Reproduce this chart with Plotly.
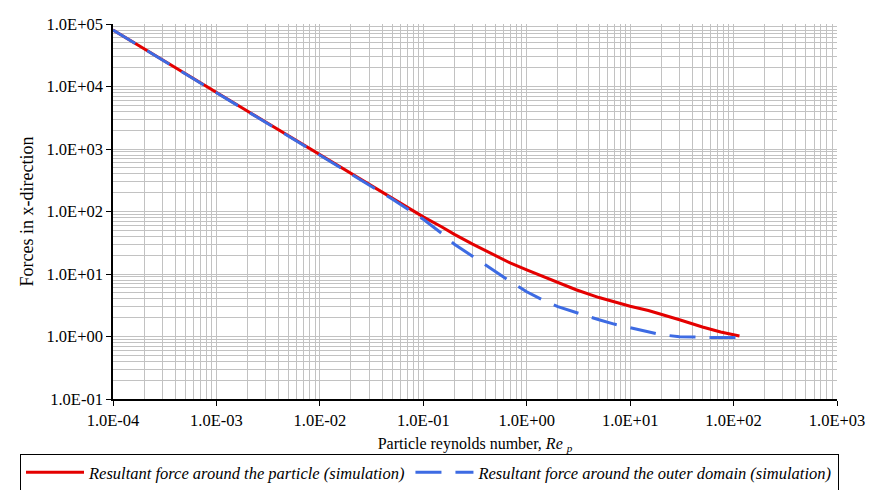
import plotly.graph_objects as go

# Particle Reynolds number samples
re_particle = [1e-4, 3e-4, 1e-3, 3e-3, 1e-2, 3e-2, 0.05, 0.1, 0.15, 0.2, 0.3, 0.5, 0.7, 1.0, 1.5, 2.0, 3.0, 5.0, 7.0, 10.0, 15.0, 20.0, 30.0, 50.0, 75.0, 114.0]
force_particle = [80000, 26700, 8000, 2670, 800, 267, 160, 82, 57, 43, 30, 19.5, 14.9, 11.6, 8.8, 7.3, 5.6, 4.2, 3.55, 3.05, 2.6, 2.28, 1.85, 1.42, 1.18, 1.02]

re_outer = [1e-4, 3e-4, 1e-3, 3e-3, 1e-2, 3e-2, 0.05, 0.1, 0.15, 0.2, 0.3, 0.5, 0.7, 1.0, 1.5, 2.0, 3.0, 5.0, 7.0, 10.0, 15.0, 20.0, 30.0, 50.0, 75.0, 114.0]
force_outer = [80000, 26700, 8000, 2670, 800, 266, 159, 75, 45, 30, 19, 11, 7.5, 5.2, 3.7, 3.0, 2.4, 1.85, 1.58, 1.38, 1.17, 1.07, 0.99, 0.96, 0.96, 0.97]

x_tickvals = [1e-4, 1e-3, 1e-2, 1e-1, 1e0, 1e1, 1e2, 1e3]
x_ticktext = ["1.0E-04", "1.0E-03", "1.0E-02", "1.0E-01", "1.0E+00", "1.0E+01", "1.0E+02", "1.0E+03"]
y_tickvals = [1e-1, 1e0, 1e1, 1e2, 1e3, 1e4, 1e5]
y_ticktext = ["1.0E-01", "1.0E+00", "1.0E+01", "1.0E+02", "1.0E+03", "1.0E+04", "1.0E+05"]

x_minor = [k * 10.0 ** e for e in range(-4, 3) for k in range(2, 10)]
y_minor = [k * 10.0 ** e for e in range(-1, 5) for k in range(2, 10)]

series_names = ["<i>Resultant force around the particle (simulation)</i>",
                "<i>Resultant force around the outer domain (simulation)</i>"]

FONT = "Liberation Serif"
GRID = "#c2c2c2"

# page body has an 8px margin: figure is sized/margined so the plot area lands at x 113-837, y 24-399
fig = go.Figure()
fig.add_trace(go.Scatter(x=re_particle, y=force_particle, mode="lines",
                         name=series_names[0],
                         line=dict(color="#e40000", width=3)))
fig.add_trace(go.Scatter(x=re_outer, y=force_outer, mode="lines",
                         name=series_names[1],
                         line=dict(color="#3d6be3", width=3, dash="26px,14px")))

fig.update_layout(
    width=872, height=482,
    margin=dict(l=105, r=43, t=16, b=91, autoexpand=False),
    paper_bgcolor="white", plot_bgcolor="white",
    font=dict(family=FONT, size=16, color="black"),
    showlegend=True,
    legend=dict(orientation="h", xref="paper", x=(20 - 113) / 724, xanchor="left",
                yref="paper", y=-(454 - 399) / 375, yanchor="top",
                bordercolor="black", borderwidth=1, bgcolor="white",
                font=dict(family=FONT, size=16.5), itemwidth=58, tracegroupgap=0,
                traceorder="normal"),
)

fig.update_xaxes(type="log", range=[-4, 3],
                 tickvals=x_tickvals, ticktext=x_ticktext,
                 ticks="outside", ticklen=5, tickcolor="black",
                 showline=True, linecolor="black", linewidth=1.5,
                 showgrid=True, gridcolor=GRID, gridwidth=1,
                 minor=dict(tickvals=x_minor, showgrid=True, gridcolor=GRID, gridwidth=1, ticks=""),
                 zeroline=False, mirror=False,
                 tickfont=dict(family=FONT, size=16.5),
                 title=dict(text="Particle reynolds number, <i>Re</i> <sub><i>p</i></sub>",
                            font=dict(family=FONT, size=16), standoff=9))
fig.update_yaxes(type="log", range=[-1, 5],
                 tickvals=y_tickvals, ticktext=y_ticktext,
                 ticks="outside", ticklen=5, tickcolor="black",
                 showline=True, linecolor="black", linewidth=1.5,
                 showgrid=True, gridcolor=GRID, gridwidth=1,
                 minor=dict(tickvals=y_minor, showgrid=True, gridcolor=GRID, gridwidth=1, ticks=""),
                 zeroline=False, mirror=False,
                 tickfont=dict(family=FONT, size=16.5),
                 title=dict(text="Forces in x-direction", font=dict(family=FONT, size=18), standoff=8))

fig.write_html("out.html")
